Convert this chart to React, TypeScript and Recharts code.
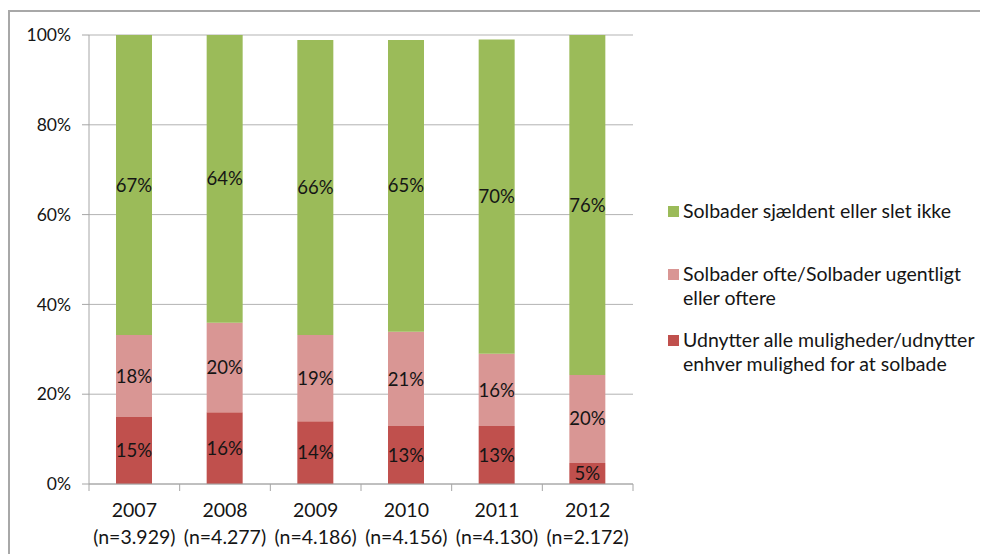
import React from 'react';
import { BarChart, Bar, XAxis, YAxis, CartesianGrid, LabelList } from 'recharts';

const years = ['2007', '2008', '2009', '2010', '2011', '2012'];
const nLabels = ['(n=3.929)', '(n=4.277)', '(n=4.186)', '(n=4.156)', '(n=4.130)', '(n=2.172)'];
const udnytter = [14.9, 16.0, 14.0, 12.9, 12.9, 4.7];
const ofte = [18.3, 19.9, 19.2, 21.0, 16.1, 19.6];
const sjaeldent = [66.8, 64.1, 65.7, 65.0, 70.0, 75.7];
const yTicks = [0, 20, 40, 60, 80, 100];

const seriesNames = {
  sjaeldent: 'Solbader sjældent eller slet ikke',
  ofte: 'Solbader ofte/Solbader ugentligt eller oftere',
  udnytter: 'Udnytter alle muligheder/udnytter enhver mulighed for at solbade',
};
const legendLines = [
  ['Solbader sjældent eller slet ikke'],
  ['Solbader ofte/Solbader ugentligt', 'eller oftere'],
  ['Udnytter alle muligheder/udnytter', 'enhver mulighed for at solbade'],
];

const data = years.map((y, i) => ({
  year: y,
  n: nLabels[i],
  udnytter: udnytter[i],
  ofte: ofte[i],
  sjaeldent: sjaeldent[i],
}));

const COLORS = { sjaeldent: '#9BBB59', ofte: '#D99694', udnytter: '#C0504D' };
const FONT = 'Lato, "Open Sans", sans-serif';
const TEXT = '#151515';
const AXIS = '#a6a6a6';

const XTick = (props: any) => {
  const { x, y, payload, index, visibleTicksCount, width } = props;
  const half = payload && payload.offset ? payload.offset : width / visibleTicksCount / 2;
  const item = data[index] || data.find((d) => d.year === payload.value);
  return (
    <g>
      <line x1={x - half} x2={x - half} y1={y} y2={y + 7} stroke={AXIS} strokeWidth={1} />
      {index === visibleTicksCount - 1 && (
        <line x1={x + half} x2={x + half} y1={y} y2={y + 7} stroke={AXIS} strokeWidth={1} />
      )}
      <text x={x} y={y + 33} textAnchor="middle" fill={TEXT} fontSize={19.5} fontFamily={FONT}>
        {payload.value}
      </text>
      <text x={x} y={y + 60} textAnchor="middle" fill={TEXT} fontSize={19.5} fontFamily={FONT}>
        {item ? item.n : ''}
      </text>
    </g>
  );
};

const fmt = (v: any) => `${Math.round(Number(v))}%`;

const legendOrder: Array<keyof typeof COLORS> = ['sjaeldent', 'ofte', 'udnytter'];
const legendTops = [187, 250, 316];

export default function App() {
  return (
    <div
      style={{
        position: 'relative',
        marginTop: 2,
        width: 978,
        height: 542,
        borderTop: '2px solid #a8a8a8',
        borderLeft: '2px solid #a8a8a8',
        fontFamily: FONT,
      }}
    >
      <BarChart
        width={978}
        height={542}
        data={data}
        margin={{ top: 23, right: 355, bottom: 0, left: 0 }}
        barSize={36}
        style={{ fontFamily: FONT }}
      >
        <CartesianGrid vertical={false} stroke="#b3b3b3" />
        <YAxis
          width={79}
          domain={[0, 100]}
          ticks={yTicks}
          tickFormatter={(v) => `${v}%`}
          tickSize={7}
          tickMargin={11}
          axisLine={{ stroke: AXIS }}
          tickLine={{ stroke: AXIS }}
          tick={{ fill: TEXT, fontSize: 17.5, fontFamily: FONT }}
          allowDataOverflow
        />
        <XAxis
          dataKey="year"
          height={70}
          tickLine={false}
          tickSize={0}
          tickMargin={0}
          axisLine={{ stroke: AXIS }}
          tick={<XTick />}
          interval={0}
        />
        <Bar dataKey="udnytter" stackId="a" fill={COLORS.udnytter} name={seriesNames.udnytter} isAnimationActive={false}>
          <LabelList dataKey="udnytter" position="center" formatter={fmt} fill={TEXT} fontSize={18.5} fontFamily={FONT} />
        </Bar>
        <Bar dataKey="ofte" stackId="a" fill={COLORS.ofte} name={seriesNames.ofte} isAnimationActive={false}>
          <LabelList dataKey="ofte" position="center" formatter={fmt} fill={TEXT} fontSize={18.5} fontFamily={FONT} />
        </Bar>
        <Bar dataKey="sjaeldent" stackId="a" fill={COLORS.sjaeldent} name={seriesNames.sjaeldent} isAnimationActive={false}>
          <LabelList dataKey="sjaeldent" position="center" formatter={fmt} fill={TEXT} fontSize={18.5} fontFamily={FONT} />
        </Bar>
      </BarChart>
      {legendOrder.map((key, i) => (
        <div
          key={key}
          style={{
            position: 'absolute',
            left: 658,
            top: legendTops[i],
            display: 'flex',
            alignItems: 'flex-start',
            fontSize: 19.5,
            lineHeight: '24px',
            color: TEXT,
          }}
        >
          <div style={{ width: 11, height: 11, background: COLORS[key], marginTop: 7, marginRight: 4 }} />
          <div>
            {legendLines[i].map((l, j) => (
              <div key={j} style={{ whiteSpace: 'nowrap' }}>{l}</div>
            ))}
          </div>
        </div>
      ))}
    </div>
  );
}
